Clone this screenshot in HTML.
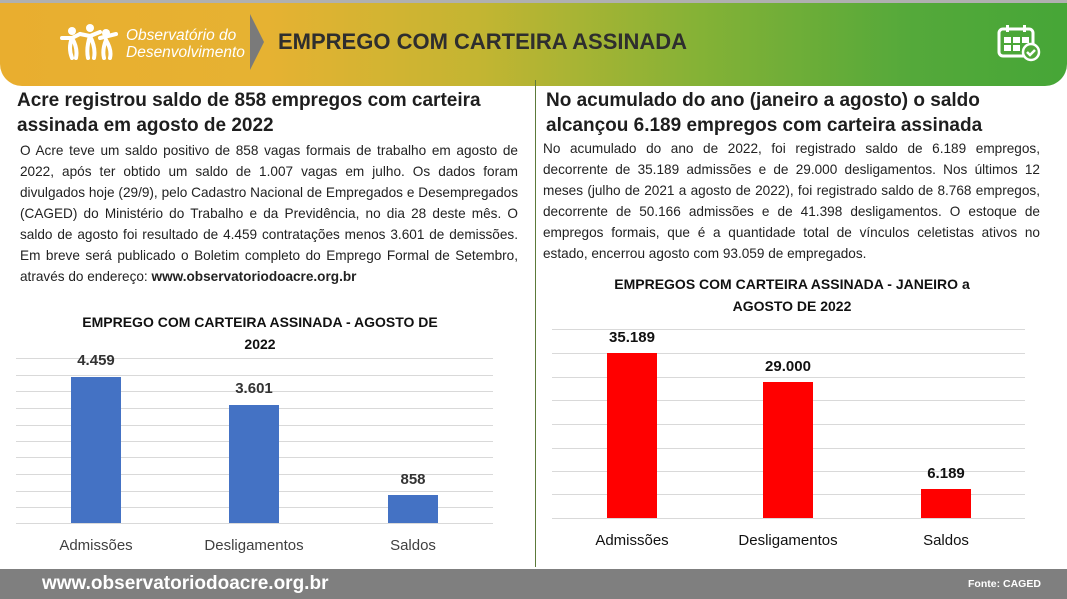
<!DOCTYPE html>
<html><head><meta charset="utf-8"><style>
*{margin:0;padding:0;box-sizing:border-box}
body{width:1067px;height:599px;overflow:hidden;background:#fff;font-family:"Liberation Sans",sans-serif;position:relative;color:#222}
.hdr{position:absolute;left:0;top:0;width:1067px;height:86px;border-top:3px solid #b0b0b0;border-radius:0 0 22px 22px;background:linear-gradient(90deg,#e9ae2f 0%,#e6b232 25%,#c3b532 45%,#86b236 65%,#55a93a 85%,#46a637 100%)}
.abs{position:absolute}
h2{position:absolute;font-size:19px;font-weight:bold;line-height:25px;color:#1e1e1e}
p.t{position:absolute;font-size:13.6px;line-height:21px;text-align:justify;color:#222}
.ct{position:absolute;font-size:14px;font-weight:bold;text-align:center;line-height:22px;color:#111}
.g{position:absolute;height:1px;background:#d9d9d9}
.bar{position:absolute}
.v{position:absolute;font-size:15px;font-weight:bold;text-align:center;width:100px;color:#333}
.c{position:absolute;font-size:15px;text-align:center;width:160px;color:#404040}
</style></head><body>
<div class="hdr"></div>
<svg class="abs" style="left:60px;top:24px" width="60" height="36" viewBox="0 0 60 36" fill="none" stroke="#fff" stroke-width="4" stroke-linecap="round">
<circle cx="12" cy="7" r="4" fill="#fff" stroke="none"/><circle cx="30" cy="4" r="4" fill="#fff" stroke="none"/><circle cx="46" cy="9" r="4" fill="#fff" stroke="none"/>
<path d="M2 14 L12 14 L20 10 M12 14 Q8 24 12 34 M12 14 Q18 24 16 34"/><path d="M20 10 L30 12 L40 8 M30 12 Q26 24 28 34 M30 12 Q36 24 34 34"/><path d="M40 14 L56 10 M46 16 Q42 26 44 34 M46 16 Q52 26 50 34"/></svg>
<div class="abs" style="left:126px;top:27px;color:#fff;font-style:italic;font-size:15.5px;line-height:17px">Observatório do<br>Desenvolvimento</div>
<div class="abs" style="left:250px;top:14px;width:0;height:0;border-top:28px solid transparent;border-bottom:28px solid transparent;border-left:14px solid #7a7a7a"></div>
<div class="abs" style="left:278px;top:29px;font-size:22px;font-weight:bold;color:#2e2e2e">EMPREGO COM CARTEIRA ASSINADA</div>
<svg class="abs" style="left:997px;top:24px" width="44" height="38" viewBox="0 0 44 38"><rect x="2" y="5" width="34" height="27" rx="4" fill="none" stroke="#fff" stroke-width="3"/><rect x="9" y="1" width="3" height="7" fill="#fff"/><rect x="26" y="1" width="3" height="7" fill="#fff"/><rect x="7" y="13" width="7" height="6" fill="#fff"/><rect x="16" y="13" width="7" height="6" fill="#fff"/><rect x="25" y="13" width="7" height="6" fill="#fff"/><rect x="7" y="21" width="7" height="6" fill="#fff"/><rect x="16" y="21" width="7" height="6" fill="#fff"/><circle cx="34" cy="28" r="8" fill="#52a83a" stroke="#fff" stroke-width="2.5"/><path d="M30 28l3 3 5-5" stroke="#fff" stroke-width="2.5" fill="none"/></svg>

<div class="abs" style="left:535px;top:80px;width:1px;height:487px;background:#5c7a3a"></div>

<h2 style="left:17px;top:88px;width:510px">Acre registrou saldo de 858 empregos com carteira assinada em agosto de 2022</h2>
<p class="t" style="left:20px;top:140px;width:498px">O Acre teve um saldo positivo de 858 vagas formais de trabalho em agosto de 2022, após ter obtido um saldo de 1.007 vagas em julho. Os dados foram divulgados hoje (29/9), pelo Cadastro Nacional de Empregados e Desempregados (CAGED) do Ministério do Trabalho e da Previdência, no dia 28 deste mês. O saldo de agosto foi resultado de 4.459 contratações menos 3.601 de demissões. Em breve será publicado o Boletim completo do Emprego Formal de Setembro, através do endereço: <b>www.observatoriodoacre.org.br</b></p>

<h2 style="left:546px;top:88px;width:450px">No acumulado do ano (janeiro a agosto) o saldo alcançou 6.189 empregos com carteira assinada</h2>
<p class="t" style="left:543px;top:138px;width:497px">No acumulado do ano de 2022, foi registrado saldo de 6.189 empregos, decorrente de 35.189 admissões e de 29.000 desligamentos. Nos últimos 12 meses (julho de 2021 a agosto de 2022), foi registrado saldo de 8.768 empregos, decorrente de 50.166 admissões e de 41.398 desligamentos. O estoque de empregos formais, que é a quantidade total de vínculos celetistas ativos no estado, encerrou agosto com 93.059 de empregados.</p>

<div class="ct" style="left:40px;top:311px;width:440px">EMPREGO COM CARTEIRA ASSINADA - AGOSTO DE<br>2022</div>
<div class="g" style="left:16px;width:477px;top:358px"></div><div class="g" style="left:16px;width:477px;top:375px"></div><div class="g" style="left:16px;width:477px;top:391px"></div><div class="g" style="left:16px;width:477px;top:408px"></div><div class="g" style="left:16px;width:477px;top:425px"></div><div class="g" style="left:16px;width:477px;top:441px"></div><div class="g" style="left:16px;width:477px;top:457px"></div><div class="g" style="left:16px;width:477px;top:474px"></div><div class="g" style="left:16px;width:477px;top:491px"></div><div class="g" style="left:16px;width:477px;top:507px"></div><div class="g" style="left:16px;width:477px;top:523px"></div>
<div class="bar" style="left:71px;top:377px;width:50px;height:146px;background:#4472c4"></div>
<div class="bar" style="left:229px;top:405px;width:50px;height:118px;background:#4472c4"></div>
<div class="bar" style="left:388px;top:495px;width:50px;height:28px;background:#4472c4"></div>
<div class="v" style="left:46px;top:352px">4.459</div>
<div class="v" style="left:204px;top:380px">3.601</div>
<div class="v" style="left:363px;top:471px">858</div>
<div class="c" style="left:16px;top:537px">Admissões</div>
<div class="c" style="left:174px;top:537px">Desligamentos</div>
<div class="c" style="left:333px;top:537px">Saldos</div>

<div class="ct" style="left:572px;top:273px;width:440px">EMPREGOS COM CARTEIRA ASSINADA - JANEIRO a<br>AGOSTO DE 2022</div>
<div class="g" style="left:552px;width:473px;top:329px"></div><div class="g" style="left:552px;width:473px;top:353px"></div><div class="g" style="left:552px;width:473px;top:377px"></div><div class="g" style="left:552px;width:473px;top:400px"></div><div class="g" style="left:552px;width:473px;top:424px"></div><div class="g" style="left:552px;width:473px;top:448px"></div><div class="g" style="left:552px;width:473px;top:471px"></div><div class="g" style="left:552px;width:473px;top:494px"></div><div class="g" style="left:552px;width:473px;top:518px"></div>
<div class="bar" style="left:607px;top:353px;width:50px;height:165px;background:#ff0000"></div>
<div class="bar" style="left:763px;top:382px;width:50px;height:136px;background:#ff0000"></div>
<div class="bar" style="left:921px;top:489px;width:50px;height:29px;background:#ff0000"></div>
<div class="v" style="left:582px;top:329px;color:#111">35.189</div>
<div class="v" style="left:738px;top:358px;color:#111">29.000</div>
<div class="v" style="left:896px;top:465px;color:#111">6.189</div>
<div class="c" style="left:552px;top:532px;color:#111">Admissões</div>
<div class="c" style="left:708px;top:532px;color:#111">Desligamentos</div>
<div class="c" style="left:866px;top:532px;color:#111">Saldos</div>

<div class="abs" style="left:0;top:569px;width:1067px;height:30px;background:#7f7f7f"></div>
<div class="abs" style="left:42px;top:573px;font-size:19px;font-weight:bold;color:#fff">www.observatoriodoacre.org.br</div>
<div class="abs" style="left:968px;top:578px;font-size:10.5px;font-weight:bold;color:#fff">Fonte: CAGED</div>
</body></html>
